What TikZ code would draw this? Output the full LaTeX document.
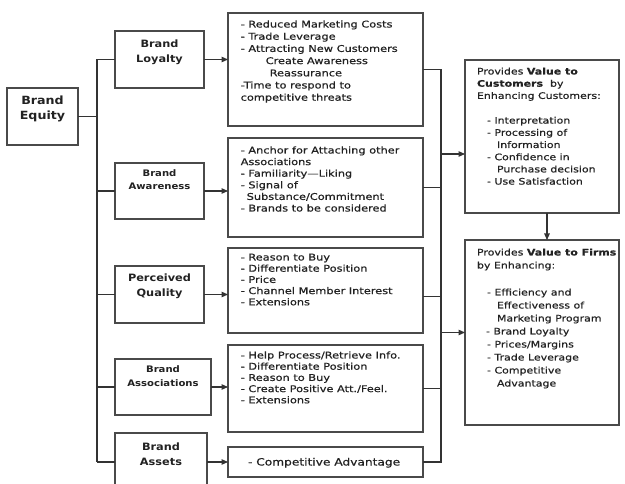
\documentclass[tikz,border=0pt]{standalone}
\usepackage{fontspec}
\setmainfont{DejaVu Sans}[FakeStretch=1.12]
\newfontfamily\lf{DejaVu Sans}[FakeStretch=1.22,FakeBold=0.6]
\usetikzlibrary{arrows.meta}
\definecolor{linec}{HTML}{333333}
\definecolor{boxc}{HTML}{4A4A4A}
\definecolor{txtc}{HTML}{222222}
% #1 width, #2 height, #3 first baseline, #4 setup, #5 content
\newcommand\boxtext[5]{\begin{minipage}[t][#2pt][t]{#1pt}#4\rule{0pt}{#3pt}#5\end{minipage}}
\newcommand\hA{\fontsize{11.3}{15.5}\selectfont\bfseries\centering}
\newcommand\hB{\fontsize{10.1}{15}\selectfont\bfseries\centering}
\newcommand\hC{\fontsize{9}{13.5}\selectfont\bfseries\centering}
\newcommand\ls[2]{\lf\fontsize{9.3}{#1}\selectfont\raggedright\leftskip=#2pt\relax}
\newcommand\rs[2]{\lf\fontsize{9}{#1}\selectfont\raggedright\leftskip=#2pt\relax}
\tikzset{
  box/.style={draw=boxc, line width=1.4pt, inner sep=0pt, outer sep=0pt, anchor=north west, text=txtc},
  conn/.style={draw=linec, line width=1.1pt},
  arr/.style={conn, -{Triangle[length=6.5pt,width=5.5pt]}}
}
\begin{document}
\begin{tikzpicture}[x=1pt,y=-1pt]
\useasboundingbox (0,0) rectangle (625,484);
\fill[white] (0,0) rectangle (625,484);
\clip (0,0) rectangle (625,484);

% left column
\node[box] (eq) at (7,88) {\boxtext{71}{57}{16.5}{\hA}{Brand\\Equity}};
\node[box] (loy) at (115,31) {\boxtext{89}{57}{17}{\hB}{Brand\\Loyalty}};
\node[box] (awa) at (115,163) {\boxtext{89}{56}{13.5}{\hC}{Brand\\Awareness}};
\node[box] (pq) at (115,266) {\boxtext{89}{57}{16}{\hB}{Perceived\\Quality}};
\node[box] (asc) at (115,359) {\boxtext{96}{56}{13.5}{\hC}{Brand\\Associations}};
\node[box] (ast) at (115,433) {\boxtext{92}{58}{17}{\hB}{Brand\\Assets}};

% lists
\node[box] (loyl) at (228,13) {\boxtext{195}{113}{14.5}{\ls{12.2}{12.7}}{- Reduced Marketing Costs\\- Trade Leverage\\- Attracting New Customers\\\hspace*{25pt}Create Awareness\\\hspace*{29pt}Reassurance\\-Time to respond to\\competitive threats}};
\node[box] (awal) at (228,138) {\boxtext{195}{99}{15.5}{\ls{11.6}{12.7}}{- Anchor for Attaching other\\Associations\\- Familiarity—Liking\\- Signal of\\\hspace*{6pt}Substance/Commitment\\- Brands to be considered}};
\node[box] (pql) at (228,248) {\boxtext{195}{85}{12.5}{\ls{11.2}{12.7}}{- Reason to Buy\\- Differentiate Position\\- Price\\- Channel Member Interest\\- Extensions}};
\node[box] (ascl) at (228,345) {\boxtext{195}{87}{13.5}{\ls{11.2}{12.7}}{- Help Process/Retrieve Info.\\- Differentiate Position\\- Reason to Buy\\- Create Positive Att./Feel.\\- Extensions}};
\node[box] (astl) at (228,447) {\boxtext{195}{30}{18.5}{\ls{12}{20}\fontsize{10}{12}\selectfont}{- Competitive Advantage}};

% right column
\node[box] (cust) at (465,60) {\boxtext{154}{153}{14.5}{\rs{12.2}{12}}{Provides \textbf{Value to}\\\textbf{Customers}\ \ by\\Enhancing Customers:\\[12.5pt]\hspace*{10pt}- Interpretation\\\hspace*{10pt}- Processing of\\\hspace*{20pt}Information\\\hspace*{10pt}- Confidence in\\\hspace*{20pt}Purchase decision\\\hspace*{10pt}- Use Satisfaction}};
\node[box] (firm) at (465,240) {\boxtext{154}{185}{15.5}{\rs{13}{12}}{Provides \textbf{Value to Firms}\\by Enhancing:\\[14pt]\hspace*{10pt}- Efficiency and\\\hspace*{20pt}Effectiveness of\\\hspace*{20pt}Marketing Program\\\hspace*{9pt}- Brand Loyalty\\\hspace*{10pt}- Prices/Margins\\\hspace*{10pt}- Trade Leverage\\\hspace*{10pt}- Competitive\\\hspace*{20pt}Advantage}};

% connectors
\coordinate (T) at (97,116);
\coordinate (C) at (441,154);
\draw[conn] (eq.east) -- (eq.east -| T);
\draw[conn] (T |- loy.west) -- (T |- ast.west);
\foreach \n in {loy,awa,pq,asc,ast}{\draw[conn] (T |- \n.west) -- (\n.west);}
\draw[arr] (loy.east) -- (loy.east -| loyl.west);
\draw[arr] (awa.east) -- (awa.east -| awal.west);
\draw[arr] (pq.east) -- (pq.east -| pql.west);
\draw[arr] (asc.east) -- (asc.east -| ascl.west);
\draw[arr] (ast.east) -- (ast.east -| astl.west);

\draw[conn] (loyl.east) -- (loyl.east -| C) -- (C |- astl.east) -- (astl.east);
\draw[conn] (awal.east) -- (awal.east -| C);
\draw[conn] ([yshift=-6pt]pql.east) -- ([yshift=-6pt]pql.east -| C);
\draw[conn] (ascl.east) -- (ascl.east -| C);

\draw[arr] (C) -- (C -| cust.west);
\draw[arr] (C |- firm.west) -- (firm.west);
\draw[arr] ([xshift=5pt]cust.south) -- ([xshift=5pt]firm.north);
\end{tikzpicture}
\end{document}
